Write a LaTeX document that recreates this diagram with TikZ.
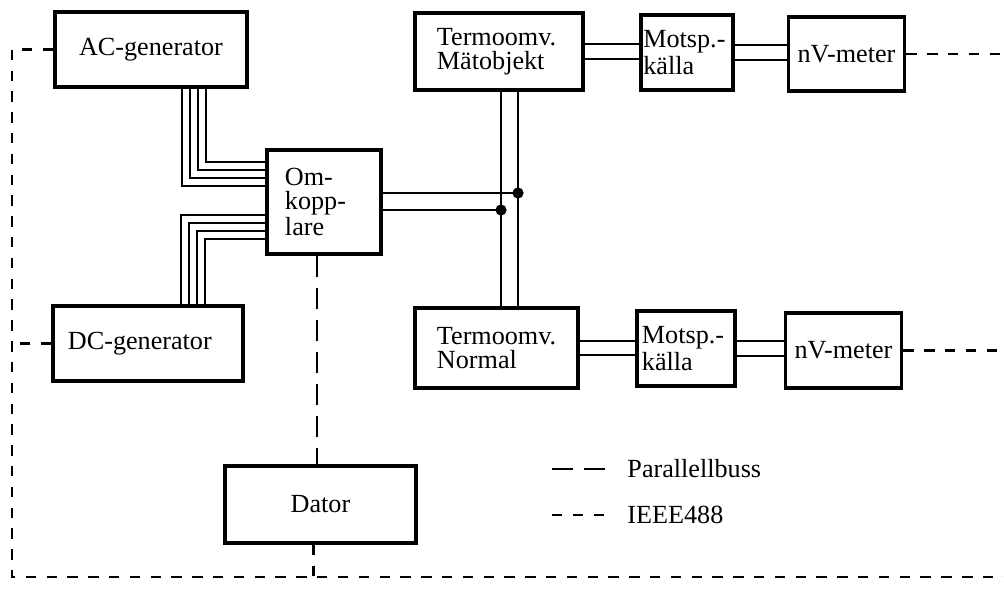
\documentclass[tikz,border=0pt]{standalone}
\usepackage{fontspec}
\setmainfont{Liberation Serif}
\usetikzlibrary{calc}

\begin{document}
\begin{tikzpicture}[
    x=0.0125cm, y=-0.0125cm,
    blk/.style={draw, line width=1.2pt, inner ysep=0pt},
    wire/.style={line width=0.7pt},
    pbus/.style={line width=0.9pt, dash pattern=on 0.26cm off 0.14cm},
    ieee/.style={line width=0.9pt, dash pattern=on 0.13cm off 0.13cm},
    dot/.style={circle, fill, inner sep=0pt, minimum size=0.14cm},
    every node/.style={font=\fontsize{9.3}{8.4}\selectfont}
]
\useasboundingbox (0,0) rectangle (1004,589);

% Generators, switch and computer
\node[blk, minimum width=2.4cm, minimum height=0.9375cm, align=center] (ac) at (151,49.5) {AC-generator};
\node[blk, minimum height=0.9375cm, text width=2.0cm, inner xsep=0.1875cm, align=left] (dc) at (148,343.5) {DC-generator};
\node[blk, minimum height=1.3cm, text width=0.975cm, inner xsep=0.225cm, align=left] (om) at (324,202) {Om-\\kopp-\\lare};
\node[blk, minimum width=2.3875cm, minimum height=0.9625cm, align=center] (dator) at (320.5,504.5) {Dator};

% Measuring chain, upper
\node[blk, minimum height=0.9625cm, text width=1.55cm, inner xsep=0.275cm, align=left] (tm1) at (499,51.5) {Termoomv.\\Mätobjekt};
\node[blk, minimum height=0.9375cm, text width=1.09cm, inner xsep=0.03cm, align=left] (ms1) at (687,52.5) {\mbox{Motsp.-}\\källa};
\node[blk, minimum width=1.3875cm, minimum height=0.925cm, align=center] (nv1) at (846.5,54) {nV-meter};

% Measuring chain, lower
\node[blk, minimum height=1.0cm, text width=1.4875cm, inner xsep=0.275cm, align=left] (tm2) at (496.5,348) {Termoomv.\\Normal};
\node[blk, minimum height=0.9375cm, text width=1.1cm, inner xsep=0.0625cm, align=left] (ms2) at (686,348.5) {\mbox{Motsp.-}\\källa};
\node[blk, minimum width=1.3625cm, minimum height=0.9375cm, align=center] (nv2) at (843.5,350.5) {nV-meter};

% Generator cables into the switch
\foreach \i in {0,...,3} {
  \draw[wire] ([xshift={1.6125cm+\i*0.1cm}]ac.south west) |- ([yshift={0.2cm+\i*0.1cm}]om.west);
  \draw[wire] ([xshift={1.625cm+\i*0.1cm}]dc.north west) |- ([yshift={-0.1625cm-\i*0.1cm}]om.west);
}

% Switch to thermocouples
\coordinate (b1) at ([xshift=0.025cm]tm1.south);
\coordinate (b2) at ([xshift=0.2375cm]tm1.south);
\draw[wire, line width=1pt] (b1) -- (b1 |- tm2.north);
\draw[wire, line width=1pt] (b2) -- (b2 |- tm2.north);
\draw[wire] ([yshift=0.1125cm]om.east) -- ([yshift=0.1125cm]om.east -| b2) node[dot] (j1) {};
\draw[wire] ([yshift=-0.1cm]om.east) -- ([yshift=-0.1cm]om.east -| b1) node[dot] (j2) {};

% Double leads
\foreach \a/\b in {tm1/ms1, ms1/nv1, tm2/ms2, ms2/nv2} {
  \draw[wire] ([yshift=0.09cm]\a.east) -- ([yshift=0.09cm]\a.east -| \b.west);
  \draw[wire] ([yshift=-0.09cm]\a.east) -- ([yshift=-0.09cm]\a.east -| \b.west);
}

% Parallel bus
\draw[pbus] ([xshift=-0.0875cm]om.south) -- ([xshift=-0.0875cm]om.south |- dator.north);

% IEEE488 bus
\coordinate (bl) at (12,577);
\coordinate (br) at (1004,577);
\draw[ieee] (ac.west) -| (bl) -- (br);
\draw[ieee] (dc.west) -- (dc.west -| bl);
\draw[ieee] (nv1.east) -- (nv1.east -| br);
\draw[ieee] (nv2.east) -- (nv2.east -| br);
\draw[ieee] ([xshift=-0.0875cm]dator.south) -- ([xshift=-0.0875cm]dator.south |- bl);

% Legend
\coordinate (lg1) at (552,469);
\coordinate (lg2) at (552,515);
\draw[pbus] (lg1) -- ++(0.66cm,0) node[right=0.15cm] (lg1t) {Parallellbuss};
\draw[ieee] (lg2) -- ++(0.65cm,0) node[right=0.16cm] (lg2t) {IEEE488};

\end{tikzpicture}
\end{document}
